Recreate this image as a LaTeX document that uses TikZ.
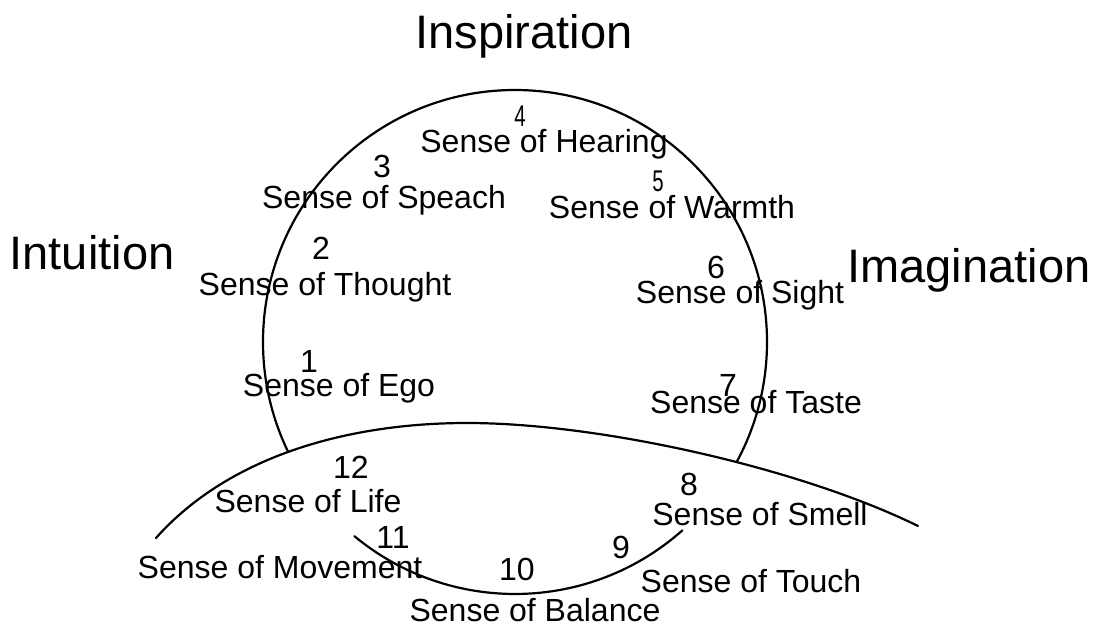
\documentclass[tikz,border=0pt]{standalone}
\usepackage{fontspec}
\setmainfont{Liberation Sans}
\newfontfamily\snfam[FakeStretch=0.68]{Liberation Sans}
\newcommand\labfont{\fontsize{32}{34}\selectfont}
\newcommand\ttlfont{\fontsize{47}{50}\selectfont}
\newcommand\snumfont{\snfam\fontsize{30}{32}\selectfont}
\usetikzlibrary{calc}
\begin{document}
\begin{tikzpicture}[x=1pt,y=1pt,
  lbl/.style={anchor=base, inner sep=0pt, font=\labfont},
  snum/.style={anchor=base, inner sep=0pt, font=\snumfont},
  ttl/.style={anchor=base, inner sep=0pt, font=\ttlfont},
  curve/.style={line width=2.2pt, line cap=round}]
\useasboundingbox (0,0) rectangle (1096,-626);

% the circle: upper part above the lower curve, and its lowest part
\coordinate (C) at (515,-342);
\begin{scope}
  \clip (156,-538) .. controls (230,-455) and (350,-423) .. (467,-423)
        .. controls (600,-423) and (800,-468) .. (918,-526)
        -- (918,0) -- (156,0) -- cycle;
  \draw[curve] (C) circle[radius=252];
\end{scope}
\draw[curve] ($(C)+(230.4:252)$) arc[start angle=230.4, end angle=311.6, radius=252];

% big lower curve
\coordinate (A) at (156,-538);
\coordinate (P) at (467,-423);
\coordinate (B) at (918,-526);
\draw[curve] (A) .. controls (230,-455) and (350,-423) .. (P)
        .. controls (600,-423) and (800,-468) .. (B);

% titles
\node[ttl] (insp) at (524,-49) {Inspiration};
\node[ttl] (intu) at (92,-269) {Intuition};
\node[ttl] (imag) at (969,-282) {Imagination};

% numbers
\node[snum] (n4) at (520,-127) {4};
\node[snum] (n5) at (658,-191) {5};
\node[lbl] (n3) at (382,-177) {3};
\node[lbl] (n2) at (321,-259) {2};
\node[lbl] (n6) at (716,-278) {6};
\node[lbl] (n1) at (309,-372) {1};
\node[lbl] (n7) at (728,-396) {7};
\node[lbl] (n12) at (351,-478) {12};
\node[lbl] (n8) at (689,-495) {8};
\node[lbl] (n11) at (393,-548) {11};
\node[lbl] (n9) at (621,-558) {9};
\node[lbl] (n10) at (517,-580) {10};

% labels
\node[lbl] (hear) at (544,-152) {Sense of Hearing};
\node[lbl] (speach) at (384,-208) {Sense of Speach};
\node[lbl] (warm) at (672,-218) {Sense of Warmth};
\node[lbl] (thou) at (325,-295) {Sense of Thought};
\node[lbl] (sight) at (740,-303) {Sense of Sight};
\node[lbl] (ego) at (339,-396) {Sense of Ego};
\node[lbl] (taste) at (756,-413) {Sense of Taste};
\node[lbl] (life) at (308,-512) {Sense of Life};
\node[lbl] (smell) at (760,-525) {Sense of Smell};
\node[lbl] (move) at (280,-578) {Sense of Movement};
\node[lbl] (touch) at (751,-592) {Sense of Touch};
\node[lbl] (bal) at (535,-621) {Sense of Balance};
\end{tikzpicture}
\end{document}
